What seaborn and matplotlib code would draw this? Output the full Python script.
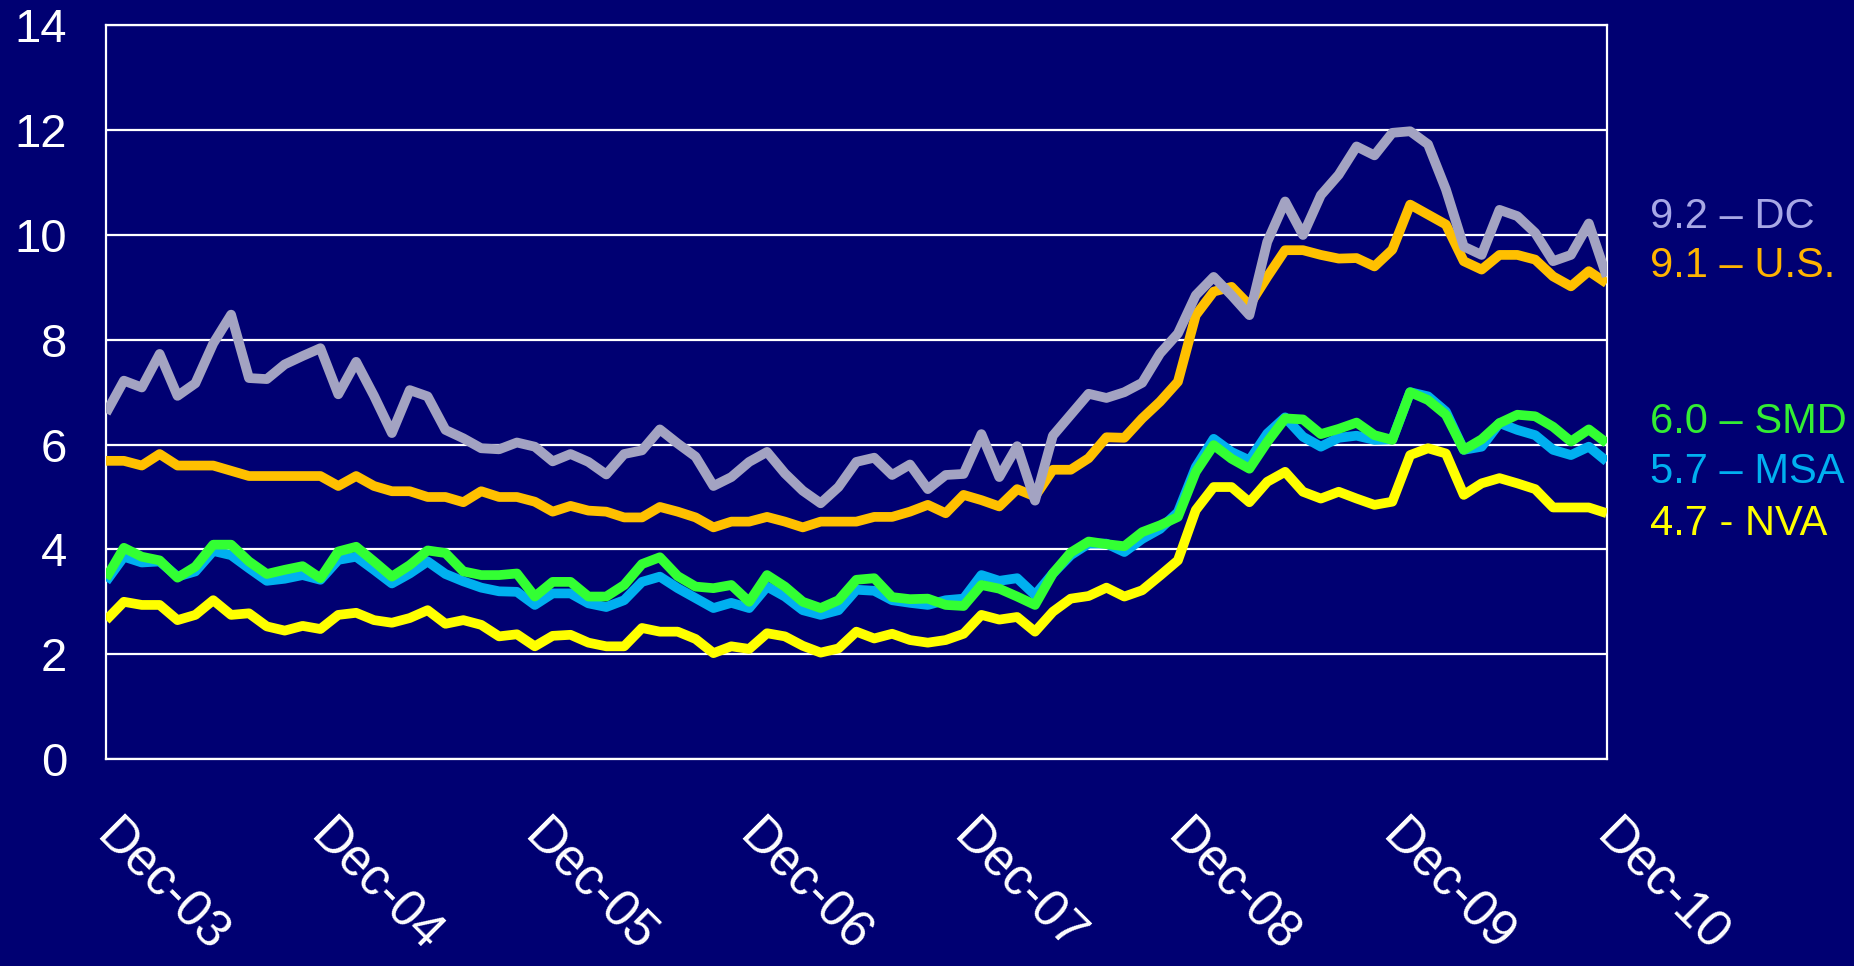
import numpy as np
import pandas as pd
import matplotlib
matplotlib.use("Agg")
import matplotlib.pyplot as plt
import matplotlib.transforms as mtransforms
import seaborn as sns

tick_labels = ["Dec-03", "Dec-04", "Dec-05", "Dec-06", "Dec-07", "Dec-08", "Dec-09", "Dec-10"]

dc = [6.6, 7.22, 7.09, 7.73, 6.93, 7.17, 7.93, 8.48, 7.27, 7.25, 7.53, 7.69, 7.84,
      6.96, 7.58, 6.93, 6.22, 7.04, 6.92, 6.28, 6.12, 5.93, 5.91, 6.04, 5.96,
      5.68, 5.82, 5.67, 5.43, 5.82, 5.89, 6.29, 6.02, 5.77, 5.21, 5.38, 5.67,
      5.86, 5.45, 5.12, 4.88, 5.19, 5.67, 5.75, 5.42, 5.62, 5.15, 5.42, 5.44,
      6.2, 5.38, 5.97, 4.93, 6.17, 6.57, 6.97, 6.89, 7.0, 7.18, 7.74, 8.12,
      8.85, 9.2, 8.85, 8.47, 9.87, 10.64, 10.0, 10.76, 11.15, 11.69, 11.52, 11.95,
      11.98, 11.73, 10.87, 9.78, 9.62, 10.48, 10.36, 10.04, 9.5, 9.62, 10.22, 9.21]

us = [5.69, 5.69, 5.6, 5.82, 5.6, 5.6, 5.6, 5.5, 5.4, 5.4, 5.4, 5.4, 5.4,
      5.21, 5.4, 5.21, 5.11, 5.11, 5.0, 5.0, 4.9, 5.11, 5.0, 5.0, 4.91,
      4.72, 4.83, 4.74, 4.72, 4.61, 4.61, 4.81, 4.72, 4.61, 4.42, 4.53, 4.53,
      4.62, 4.53, 4.42, 4.53, 4.53, 4.53, 4.62, 4.62, 4.72, 4.85, 4.69, 5.04,
      4.94, 4.82, 5.15, 5.01, 5.52, 5.52, 5.74, 6.14, 6.13, 6.5, 6.82, 7.2,
      8.47, 8.92, 9.01, 8.66, 9.2, 9.71, 9.71, 9.62, 9.55, 9.56, 9.4, 9.72,
      10.58, 10.39, 10.2, 9.5, 9.34, 9.62, 9.62, 9.53, 9.21, 9.02, 9.31, 9.08]

smd = [3.45, 4.03, 3.86, 3.79, 3.46, 3.67, 4.09, 4.09, 3.77, 3.53, 3.61, 3.68, 3.45,
       3.96, 4.05, 3.77, 3.48, 3.7, 3.98, 3.93, 3.58, 3.51, 3.51, 3.54, 3.1,
       3.38, 3.38, 3.1, 3.1, 3.32, 3.72, 3.85, 3.49, 3.29, 3.26, 3.32, 3.0,
       3.51, 3.29, 3.0, 2.88, 3.03, 3.42, 3.45, 3.09, 3.05, 3.06, 2.94, 2.92,
       3.32, 3.25, 3.1, 2.94, 3.54, 3.94, 4.15, 4.1, 4.06, 4.33, 4.46, 4.62,
       5.48, 5.99, 5.73, 5.54, 6.05, 6.5, 6.48, 6.2, 6.3, 6.42, 6.18, 6.09,
       7.0, 6.85, 6.57, 5.9, 6.1, 6.41, 6.57, 6.54, 6.34, 6.06, 6.29, 6.03]

msa = [3.39, 3.86, 3.75, 3.77, 3.48, 3.58, 3.97, 3.89, 3.64, 3.4, 3.44, 3.51, 3.42,
       3.8, 3.86, 3.61, 3.35, 3.54, 3.77, 3.53, 3.39, 3.27, 3.2, 3.19, 2.94,
       3.16, 3.16, 2.97, 2.9, 3.03, 3.38, 3.48, 3.26, 3.07, 2.88, 2.98, 2.88,
       3.29, 3.1, 2.84, 2.75, 2.84, 3.23, 3.21, 3.03, 2.98, 2.94, 3.03, 3.06,
       3.51, 3.4, 3.45, 3.13, 3.54, 3.89, 4.11, 4.11, 3.95, 4.2, 4.39, 4.71,
       5.57, 6.11, 5.86, 5.7, 6.21, 6.52, 6.15, 5.96, 6.13, 6.17, 6.09, 6.1,
       7.0, 6.92, 6.63, 5.9, 5.96, 6.41, 6.28, 6.18, 5.9, 5.8, 5.96, 5.68]

nva = [2.65, 3.0, 2.94, 2.94, 2.65, 2.75, 3.03, 2.75, 2.78, 2.53, 2.45, 2.54, 2.48,
       2.75, 2.79, 2.65, 2.6, 2.69, 2.84, 2.58, 2.65, 2.56, 2.34, 2.38, 2.15,
       2.35, 2.37, 2.22, 2.15, 2.15, 2.5, 2.43, 2.43, 2.29, 2.02, 2.15, 2.1,
       2.4, 2.34, 2.16, 2.03, 2.11, 2.43, 2.3, 2.39, 2.27, 2.22, 2.27, 2.39,
       2.75, 2.66, 2.71, 2.43, 2.81, 3.06, 3.11, 3.27, 3.1, 3.22, 3.5, 3.79,
       4.75, 5.19, 5.19, 4.9, 5.29, 5.48, 5.1, 4.97, 5.1, 4.97, 4.85, 4.91,
       5.8, 5.93, 5.83, 5.04, 5.26, 5.36, 5.26, 5.15, 4.8, 4.8, 4.8, 4.69]

series_names = ["U.S.", "DC", "MSA", "SMD", "NVA"]
series_values = [us, dc, msa, smd, nva]
line_colors = ["#FFC000", "#A3A3C2", "#00B0F0", "#33FF33", "#FFFF00"]
end_labels = ["9.2 \u2013 DC", "9.1 \u2013 U.S.", "6.0 \u2013 SMD", "5.7 \u2013 MSA", "4.7 - NVA"]
end_label_colors = ["#A8A8E6", "#FFB400", "#33EE33", "#00B0F0", "#FFFF00"]
end_label_y = [10.35, 9.4, 6.44, 5.48, 4.49]

bg = "#000072"
sns.set_theme(style="white")
plt.rcParams["font.family"] = ["Liberation Sans", "DejaVu Sans"]

n = len(dc)
frames = []
for name, vals in zip(series_names, series_values):
    frames.append(pd.DataFrame({"month": np.arange(n), "rate": vals, "area": name}))
df = pd.concat(frames, ignore_index=True)

fig = plt.figure(figsize=(18.54, 9.66), dpi=100, facecolor=bg)
ax = fig.add_axes([0.0572, 0.2143, 0.8094, 0.7594])
ax.set_facecolor(bg)

ax.set_yticks(np.arange(0, 15, 2))
ax.grid(axis="y", color="white", linewidth=1.6, zorder=0)
ax.grid(axis="x", visible=False)

for name, col in zip(series_names, line_colors):
    sns.lineplot(data=df[df["area"] == name], x="month", y="rate", color=col,
                 linewidth=7.0, ax=ax, legend=False, zorder=3,
                 solid_joinstyle="round", solid_capstyle="butt")

ax.set_xlim(0, n - 1)
ax.set_ylim(0, 14)
ax.set_xticks(np.arange(0, n, 12))
ax.set_xticklabels(tick_labels, rotation=-45, ha="left", va="top",
                   rotation_mode="default")
ax.set_xlabel("")
ax.set_ylabel("")

for s in ax.spines.values():
    s.set_color("white")
    s.set_linewidth(1.6)
ax.tick_params(axis="both", colors="white", direction="out", length=14, width=1.6,
               labelsize=34)
ax.tick_params(axis="y", pad=14)
ax.tick_params(axis="x", pad=24)

offset = mtransforms.ScaledTranslation(-0.2, 0, fig.dpi_scale_trans)
for lab in ax.get_xticklabels():
    lab.set_fontsize(36.5)
    lab.set_transform(lab.get_transform() + offset)

trans = mtransforms.blended_transform_factory(ax.transAxes, ax.transData)
for txt, col, yv in zip(end_labels, end_label_colors, end_label_y):
    ax.text(1.029, yv, txt, color=col, fontsize=30, va="center", ha="left",
            transform=trans, clip_on=False)

fig.savefig("out.png", dpi=100, facecolor=bg)
